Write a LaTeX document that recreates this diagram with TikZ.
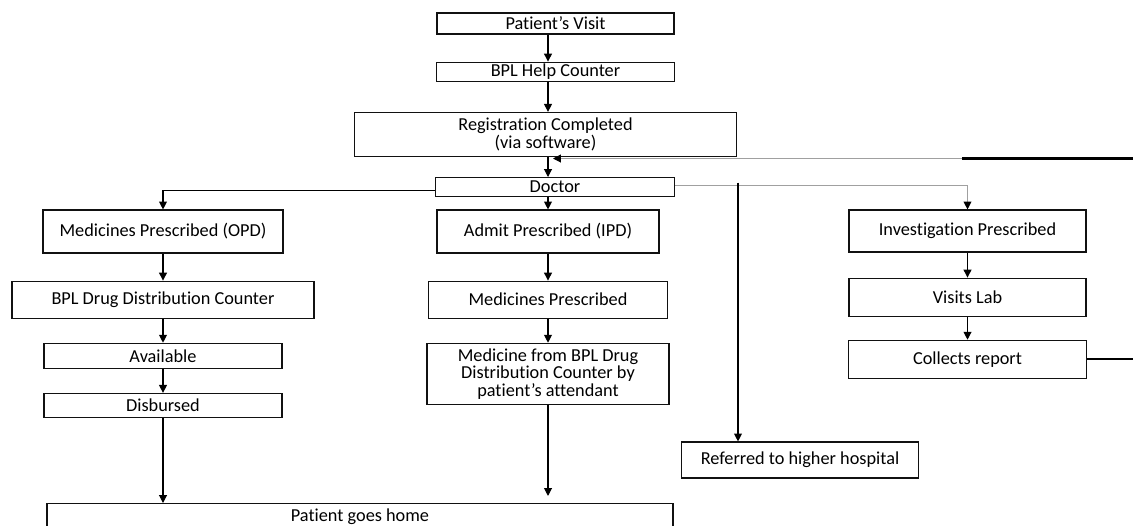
\documentclass[tikz,border=0pt]{standalone}
\usepackage{fontspec}
\setmainfont[Ligatures=NoCommon]{Carlito}
\usetikzlibrary{positioning, arrows.meta, calc}
\definecolor{boxline}{HTML}{111111}
\definecolor{softline}{HTML}{A0A0A0}

\begin{document}
\begin{tikzpicture}[
    node distance=0.5cm,
    stage/.style={rectangle, draw=boxline, fill=white, line width=0.65pt,
                  inner sep=1pt, align=center, minimum width=4.76cm,
                  minimum height=0.48cm, font=\fontsize{10.4}{10}\selectfont},
    flow/.style={-{Triangle[length=4.5pt, width=4.5pt, black]}, line width=0.6pt},
    faint/.style={draw=softline}
  ]
    \useasboundingbox (0,0) rectangle (22.66,-10.5);
    \coordinate (spine) at (10.96,0);

    % main column
    \node[stage, minimum width=4.74cm, minimum height=0.42cm] (visit) at (11.11,-0.47) {Patient’s Visit};
    \node[stage, minimum height=0.38cm, below=0.54cm of visit] (help) {BPL Help Counter};
    \node[stage, minimum width=7.64cm, minimum height=0.88cm, below=0.6cm of help, xshift=-0.2cm] (reg) {Registration Completed\\(via software)};
    \node[stage, minimum width=4.78cm, minimum height=0.38cm, below=0.4cm of reg, xshift=0.19cm] (doctor) {Doctor};

    % OPD branch
    \node[stage, minimum width=4.8cm, minimum height=0.86cm] (opd) at (3.26,-4.63) {Medicines Prescribed (OPD)};
    \node[stage, minimum width=6.04cm, minimum height=0.74cm, below=0.54cm of opd] (drug) {BPL Drug Distribution Counter};
    \node[stage, minimum height=0.5cm, below=0.48cm of drug] (avail) {Available};
    \node[stage, minimum height=0.48cm, below=0.48cm of avail] (disb) {Disbursed};

    % IPD branch
    \node[stage, minimum width=4.44cm, minimum height=0.86cm] (ipd) at (10.96,-4.63) {Admit Prescribed (IPD)};
    \node[stage, minimum width=4.78cm, minimum height=0.74cm, below=0.54cm of ipd] (medp) {Medicines Prescribed};
    \node[stage, minimum width=4.84cm, minimum height=1.22cm, below=0.48cm of medp] (attend) {Medicine from BPL Drug\\Distribution Counter by\\patient’s attendant};

    % investigation branch
    \node[stage, minimum width=4.74cm, minimum height=0.84cm] (inv) at (19.35,-4.62) {Investigation Prescribed};
    \node[stage, minimum width=4.74cm, minimum height=0.76cm, below=0.5cm of inv] (lab) {Visits Lab};
    \node[stage, minimum height=0.76cm, below=0.46cm of lab] (rep) {Collects report};

    \node[stage, minimum width=4.74cm, minimum height=0.72cm] (ref) at (16.0,-9.2) {Referred to higher hospital};
    \node[stage, minimum width=12.52cm, anchor=north, inner ysep=3pt, text depth=0.5cm] (home) at (7.2,-10.06) {Patient goes home};

    \coordinate (split) at (14.76,-3.65);
    \coordinate (fbturn) at (19.24,-3.17);
    \coordinate (fbin) at (11.06,-3.17);

    \draw[flow] (visit.south -| spine) -- (help.north -| spine);
    \draw[flow] (help.south -| spine) -- (reg.north -| spine);
    \draw[flow] (reg.south -| spine) -- (doctor.north -| spine);
    \draw[flow] (doctor.south -| spine) -- (ipd.north);
    \draw[flow] ([yshift=-2pt]doctor.west) -| (opd.north);
    \draw[flow, faint] ([yshift=1pt]doctor.east) -| (inv.north);
    \draw[flow] (split) -- (split |- ref.north);

    \draw[flow] (opd) -- (drug);
    \draw[flow] (drug) -- (avail);
    \draw[flow] (avail) -- (disb);
    \draw[flow] (disb.south) -- (disb.south |- home.north);

    \draw[flow] (ipd) -- (medp);
    \draw[flow] (medp) -- (attend);
    \draw[flow, shorten >=4pt] (attend.south) -- (attend.south |- home.north);

    \draw[flow] (inv) -- (lab);
    \draw[flow] (lab) -- (rep);
    \draw[line width=1.2pt] (rep.east) -- ++(1.5,0) |- (fbturn);
    \draw[flow, faint] (fbturn) -- (fbin);
  \end{tikzpicture}
\end{document}
